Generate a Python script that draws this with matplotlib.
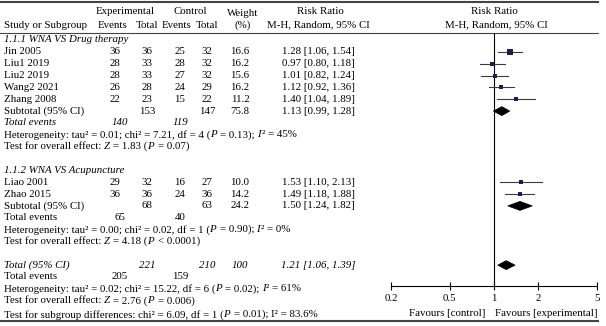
import matplotlib
matplotlib.use("Agg")
import matplotlib.pyplot as plt
from matplotlib.patches import Polygon

plt.rcParams['font.family'] = ['Liberation Serif', 'DejaVu Serif']

# data
studies1 = ["Jin 2005", "Liu1 2019", "Liu2 2019", "Wang2 2021", "Zhang 2008"]
exp_ev1 = [36, 28, 28, 26, 22]
exp_tot1 = [36, 33, 33, 28, 23]
ctl_ev1 = [25, 28, 27, 24, 15]
ctl_tot1 = [32, 32, 32, 29, 22]
weight1 = [16.6, 16.2, 15.6, 16.2, 11.2]
rr1 = [1.28, 0.97, 1.01, 1.12, 1.40]
lo1 = [1.06, 0.80, 0.82, 0.92, 1.04]
hi1 = [1.54, 1.18, 1.24, 1.36, 1.89]
sub1 = dict(exp_tot=153, ctl_tot=147, w="75.8", rr=1.13, lo=0.99, hi=1.28, exp_ev=140, ctl_ev=119)

studies2 = ["Liao 2001", "Zhao 2015"]
exp_ev2 = [29, 36]
exp_tot2 = [32, 36]
ctl_ev2 = [16, 24]
ctl_tot2 = [27, 36]
weight2 = [10.0, 14.2]
rr2 = [1.53, 1.49]
lo2 = [1.10, 1.18]
hi2 = [2.13, 1.88]
sub2 = dict(exp_tot=68, ctl_tot=63, w="24.2", rr=1.50, lo=1.24, hi=1.82, exp_ev=65, ctl_ev=40)

total = dict(exp_tot=221, ctl_tot=210, w="100", rr=1.21, lo=1.06, hi=1.39, exp_ev=205, ctl_ev=159)

# (text, italic) pieces
het1 = [("Heterogeneity: tau² = 0.01; chi² = 7.21, df = 4 (", 0), ("P", 1), (" = 0.13); ", 0), ("I", 1), ("² = 45%", 0)]
eff1 = [("Test for overall effect: ", 0), ("Z", 1), (" = 1.83 (", 0), ("P", 1), (" = 0.07)", 0)]
het2 = [("Heterogeneity: tau² = 0.00; chi² = 0.02, df = 1 (", 0), ("P", 1), (" = 0.90); ", 0), ("I", 1), ("² = 0%", 0)]
eff2 = [("Test for overall effect: ", 0), ("Z", 1), (" = 4.18 (", 0), ("P", 1), (" < 0.0001)", 0)]
het_t = [("Heterogeneity: tau² = 0.02; chi² = 15.22, df = 6 (", 0), ("P", 1), (" = 0.02); ", 0), ("I", 1), ("² = 61%", 0)]
eff_t = [("Test for overall effect: ", 0), ("Z", 1), (" = 2.76 (", 0), ("P", 1), (" = 0.006)", 0)]
subdiff = [("Test for subgroup differences: chi² = 6.09, df = 1 (", 0), ("P", 1), (" = 0.01); I² = 83.6%", 0)]

ticks = [0.2, 0.5, 1, 2, 5]
tick_labels = ["0.2", "0.5", "1", "2", "5"]

W, H = 606, 326
fig = plt.figure(figsize=(W / 100, H / 100), dpi=100)
renderer = fig.canvas.get_renderer()
ax0 = fig.add_axes([0, 0, 1, 1])
ax0.set_xlim(0, W)
ax0.set_ylim(H, 0)
ax0.axis("off")

fs = 7.8
sp = fs * 100 / 72 * 0.25
col_ee, col_et, col_ce, col_ct, col_w, col_rr = 115, 147, 180, 207, 240, 318
name_x = 4


def txt(x, y, s, ha="center", style="normal"):
    return ax0.text(x, y, s, ha=ha, va="center", fontsize=fs, style=style)


def rich(x, y, parts):
    for s, it in parts:
        lead = len(s) - len(s.lstrip(" "))
        trail = len(s) - len(s.rstrip(" "))
        x += lead * sp
        t = txt(x, y, s.strip(" "), ha="left", style="italic" if it else "normal")
        x = t.get_window_extent(renderer).x1 + trail * sp + (1.0 if it else -0.5)


def rr_str(r, l, h):
    return "%.2f [%.2f, %.2f]" % (r, l, h)


# header
txt(125, 12, "Experimental")
txt(190, 12, "Control")
txt(243, 13, "Weight")
txt(320, 12, "Risk Ratio")
txt(494, 12, "Risk Ratio")
txt(name_x, 25, "Study or Subgroup", ha="left")
txt(col_ee - 2, 25, "Events")
txt(col_et, 25, "Total")
txt(col_ce - 3, 25, "Events")
txt(col_ct, 25, "Total")
txt(243, 25, "(%)")
txt(318, 25, "M-H, Random, 95% CI")
txt(496, 25, "M-H, Random, 95% CI")

ax0.plot([0, 598], [1.5, 1.5], color="#444444", lw=1.5)
ax0.plot([0, 598], [32.5, 32.5], color="#444444", lw=0.8)
ax0.plot([0, 598], [321, 321], color="#444444", lw=1.5)

# forest axes
fx0, fx1, fy_top, fy_bot = 391, 597, 33, 286
fa = fig.add_axes([fx0 / W, (H - fy_bot) / H, (fx1 - fx0) / W, (fy_bot - fy_top) / H])
fa.set_xscale("log")
fa.set_xlim(0.2, 5)
fa.set_ylim(fy_bot, fy_top)
fa.patch.set_visible(False)
for s in ["top", "left", "right"]:
    fa.spines[s].set_visible(False)
fa.spines["bottom"].set_linewidth(0.8)
fa.set_yticks([])
fa.set_xticks(ticks)
fa.set_xticklabels(tick_labels, fontsize=fs)
fa.minorticks_off()
fa.tick_params(axis="x", direction="inout", length=6, width=0.8, pad=3)
fa.axvline(1, color="black", lw=0.8)
txt(447, 314, "Favours [control]")
txt(546, 314, "Favours [experimental]")


def study_row(y, name, ee, et, ce, ct, w, r, l, h):
    txt(name_x, y, name, ha="left")
    txt(col_ee, y, str(ee))
    txt(col_et, y, str(et))
    txt(col_ce, y, str(ce))
    txt(col_ct, y, str(ct))
    txt(col_w, y, "%.1f" % w)
    txt(col_rr, y, rr_str(r, l, h))
    fa.plot([l, h], [y, y], color="#3a3a3a", lw=0.8)
    fa.plot([r], [y], marker="s", ls="none", ms=w * 0.22, mew=0, color="#1c1c50")


def diamond(y, r, l, h, hh=4.5):
    fa.add_patch(Polygon([(l, y), (r, y - hh), (h, y), (r, y + hh)], closed=True,
                         facecolor="black", edgecolor="black", lw=0.5))


row = 11.85
y = 40
txt(name_x, y, "1.1.1 WNA VS Drug therapy", ha="left", style="italic")
for i in range(len(studies1)):
    y += row
    study_row(y, studies1[i], exp_ev1[i], exp_tot1[i], ctl_ev1[i], ctl_tot1[i],
              weight1[i], rr1[i], lo1[i], hi1[i])
y += row
txt(name_x, y, "Subtotal (95% CI)", ha="left")
txt(col_et, y, str(sub1["exp_tot"]))
txt(col_ct, y, str(sub1["ctl_tot"]))
txt(col_w, y, sub1["w"])
txt(col_rr, y, rr_str(sub1["rr"], sub1["lo"], sub1["hi"]))
diamond(y, sub1["rr"], sub1["lo"], sub1["hi"])
y += row
txt(name_x, y, "Total events", ha="left", style="italic")
txt(col_ee + 5, y, str(sub1["exp_ev"]), style="italic")
txt(col_ce, y, str(sub1["ctl_ev"]), style="italic")
y += row
rich(name_x, y, het1)
y += row
rich(name_x, y, eff1)

y += 2 * row
txt(name_x, y, "1.1.2 WNA VS Acupuncture", ha="left", style="italic")
for i in range(len(studies2)):
    y += row
    study_row(y, studies2[i], exp_ev2[i], exp_tot2[i], ctl_ev2[i], ctl_tot2[i],
              weight2[i], rr2[i], lo2[i], hi2[i])
y += row
txt(name_x, y, "Subtotal (95% CI)", ha="left")
txt(col_et, y, str(sub2["exp_tot"]))
txt(col_ct, y, str(sub2["ctl_tot"]))
txt(col_w, y, sub2["w"])
txt(col_rr, y, rr_str(sub2["rr"], sub2["lo"], sub2["hi"]))
diamond(y, sub2["rr"], sub2["lo"], sub2["hi"])
y += row
txt(name_x, y, "Total events", ha="left")
txt(col_ee + 5, y, str(sub2["exp_ev"]))
txt(col_ce, y, str(sub2["ctl_ev"]))
y += row
rich(name_x, y, het2)
y += row
rich(name_x, y, eff2)

y += 2 * row
txt(name_x, y, "Total (95% CI)", ha="left", style="italic")
txt(col_et, y, str(total["exp_tot"]), style="italic")
txt(col_ct, y, str(total["ctl_tot"]), style="italic")
txt(col_w, y, total["w"], style="italic")
txt(col_rr, y, rr_str(total["rr"], total["lo"], total["hi"]), style="italic")
diamond(y, total["rr"], total["lo"], total["hi"])
y += row
txt(name_x, y, "Total events", ha="left")
txt(col_ee + 5, y, str(total["exp_ev"]))
txt(col_ce, y, str(total["ctl_ev"]))
y += row
rich(name_x, y, het_t)
y += row
rich(name_x, y, eff_t)
y += row + 2
rich(name_x, y, subdiff)

fig.savefig("out.png", dpi=100)
